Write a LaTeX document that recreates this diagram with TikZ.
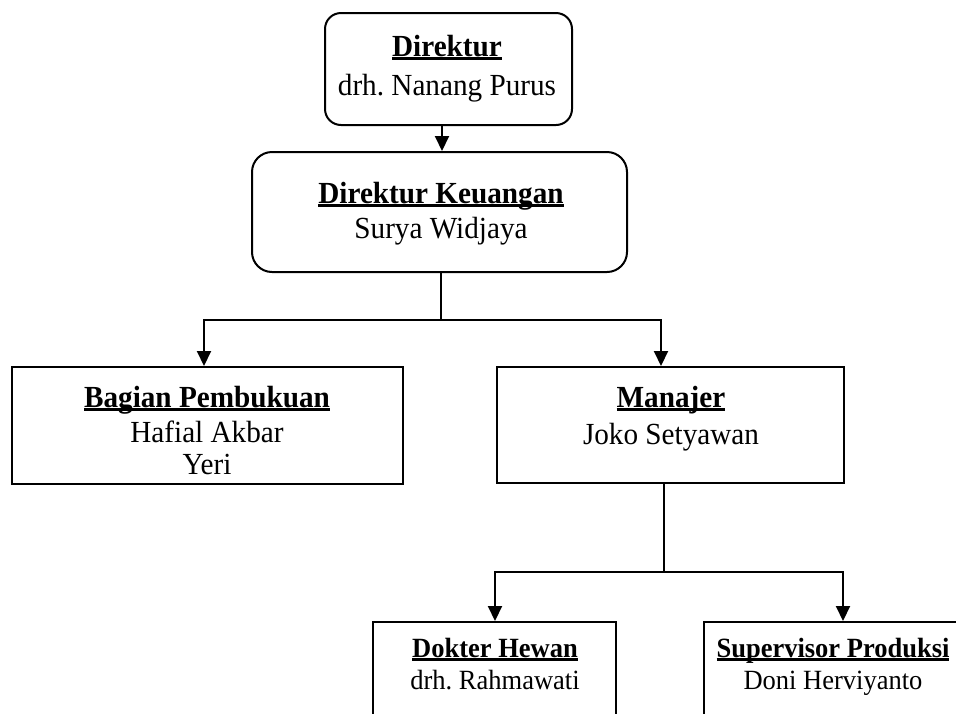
\documentclass[tikz,border=0pt]{standalone}
\usepackage{graphicx}
\usepackage{fontspec}
\setmainfont{Liberation Serif}
\usetikzlibrary{arrows.meta}
\frenchspacing

% bold heading with a rule set close under the baseline
\newsavebox\headbox
\newcommand\boxhead[1]{\sbox\headbox{\bfseries #1}\leavevmode\rlap{\rule[-3.4pt]{\wd\headbox}{2.4pt}}\usebox\headbox}
% text is drawn slightly taller than wide
\newcommand\tall[1]{\scalebox{1}[1.05]{#1}}

\begin{document}
\begin{tikzpicture}[x=1pt,y=-1pt,
  unit/.style={draw, line width=2pt, inner sep=0pt},
  chief/.style={unit, rounded corners=16pt},
  txt/.style={inner sep=0pt, anchor=base, font=\fontsize{29.2}{34}\selectfont},
  smalltxt/.style={inner sep=0pt, anchor=base, font=\fontsize{26.5}{32}\selectfont},
  wire/.style={line width=2pt},
  link/.style={wire, -{Triangle[width=14pt,length=15pt]}}]

\useasboundingbox (0,0) rectangle (956,713);
\clip (0,0) rectangle (956,713);

% boxes
\node[chief, minimum width=247pt, minimum height=112pt] (dir) at (448.5,69) {};
\node[chief, rounded corners=20pt, minimum width=375pt, minimum height=120pt] (keu) at (439.5,212) {};
\node[unit, minimum width=391pt, minimum height=117pt] (buku) at (207.5,425.5) {};
\node[unit, minimum width=347pt, minimum height=116pt] (mgr) at (670.5,425) {};
\node[unit, minimum width=243pt, minimum height=130pt] (dok) at (494.5,687) {};
\node[unit, minimum width=258pt, minimum height=130pt] (sup) at (833,687) {};

% labels
\node[txt] (dirA) at (447,56) {\tall{\boxhead{Direktur}}};
\node[txt] (dirB) at (447,95) {\tall{drh. Nanang Purus}};
\node[txt] (keuA) at (441,203) {\tall{\boxhead{Direktur Keuangan}}};
\node[txt] (keuB) at (441,238) {\tall{Surya Widjaya}};
\node[txt] (bukuA) at (207,407) {\tall{\boxhead{Bagian Pembukuan}}};
\node[txt] (bukuB) at (207,442) {\tall{Hafial Akbar}};
\node[txt] (bukuC) at (207,474) {\tall{Yeri}};
\node[txt] (mgrA) at (671,407) {\tall{\boxhead{Manajer}}};
\node[txt] (mgrB) at (671,444) {\tall{Joko Setyawan}};
\node[smalltxt] (dokA) at (495,657) {\tall{\boxhead{Dokter Hewan}}};
\node[smalltxt] (dokB) at (495,689) {\tall{drh. Rahmawati}};
\node[smalltxt] (supA) at (833,657) {\tall{\boxhead{Supervisor Produksi}}};
\node[smalltxt] (supB) at (833,689) {\tall{Doni Herviyanto}};

% junction points of the branching lines
\coordinate (j1) at (441,320);
\coordinate (j2) at (664,572);

% connectors
\draw[link] (dir.south -| 442,0) -- (keu.north -| 442,0);
\draw[wire] (keu.south -| j1) -- (j1);
\draw[link] (j1) -| (buku.north -| 204,0);
\draw[link] (j1) -| (mgr.north -| 661,0);
\draw[wire] (mgr.south -| j2) -- (j2);
\draw[link] (j2) -| (dok.north -| 495,0);
\draw[link] (j2) -| (sup.north -| 843,0);
\end{tikzpicture}
\end{document}
